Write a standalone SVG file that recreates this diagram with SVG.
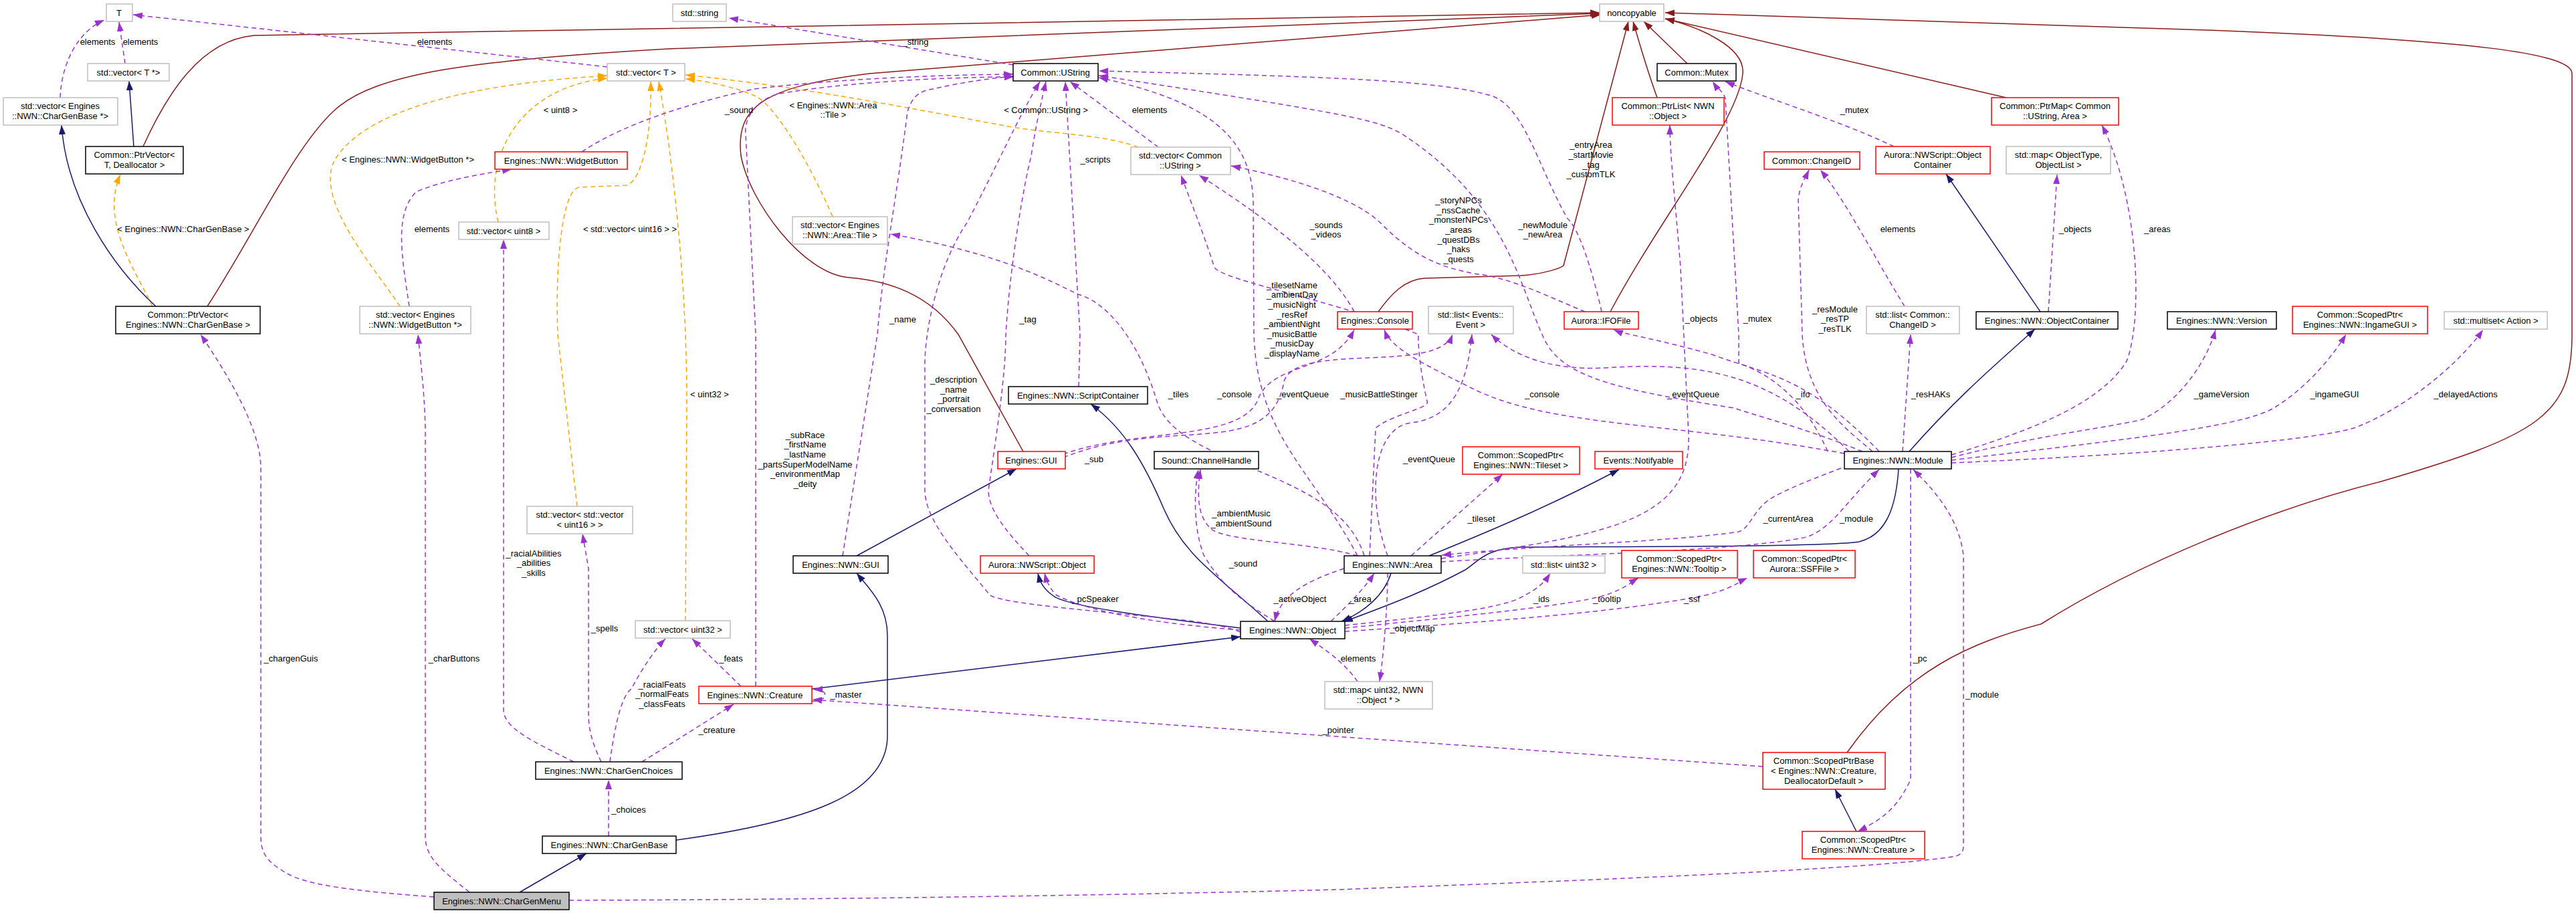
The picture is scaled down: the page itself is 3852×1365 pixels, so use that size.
<svg xmlns="http://www.w3.org/2000/svg" width="3852" height="1365" viewBox="0 0 3852 1365">
<style>
text{font-family:"Liberation Sans",Arial,sans-serif;font-size:13px;fill:#000}
.nt{text-anchor:middle}
.b{fill:#fff;stroke:#000;stroke-width:1.5}
.r{fill:#fff;stroke:#ff0000;stroke-width:1.5}
.g{fill:#fff;stroke:#bfbfbf;stroke-width:1.5}
.s{fill:#bfbfbf;stroke:#000;stroke-width:1.5}
.inh{fill:none;stroke:#191970;stroke-width:1.5;marker-end:url(#ab)}
.nc{fill:none;stroke:#8b1a1a;stroke-width:1.5;marker-end:url(#ar)}
.use{fill:none;stroke:#9a32cd;stroke-width:1.5;stroke-dasharray:7,5;marker-end:url(#ap)}
.tpl{fill:none;stroke:#ffa500;stroke-width:1.5;stroke-dasharray:7,5;marker-end:url(#ao)}
.el{text-anchor:middle}
</style>
<defs>
<marker id="ab" markerUnits="userSpaceOnUse" markerWidth="14" markerHeight="10" refX="14" refY="5" orient="auto"><path d="M0,0L14,5L0,10z" fill="#191970"/></marker>
<marker id="ar" markerUnits="userSpaceOnUse" markerWidth="14" markerHeight="10" refX="14" refY="5" orient="auto"><path d="M0,0L14,5L0,10z" fill="#8b1a1a"/></marker>
<marker id="ap" markerUnits="userSpaceOnUse" markerWidth="14" markerHeight="10" refX="14" refY="5" orient="auto"><path d="M0,0L14,5L0,10z" fill="#9a32cd"/></marker>
<marker id="ao" markerUnits="userSpaceOnUse" markerWidth="14" markerHeight="10" refX="14" refY="5" orient="auto"><path d="M0,0L14,5L0,10z" fill="#ffa500"/></marker>
</defs>
<rect width="3852" height="1365" fill="#fff"/>
<g id="connectors">
<path class="nc" d="M214,219 C250,140 300,60 380,53 L2392,19"/>
<path class="nc" d="M310,458 C380,350 440,220 500,165 C560,110 700,90 1000,73 L2392,20"/>
<path class="nc" d="M1530,675 L1433,500 C1390,440 1330,420 1270,415 C1200,410 1120,300 1108,233 C1100,160 1140,130 1300,110 L2394,22"/>
<path class="nc" d="M2061,466 C2080,440 2100,418 2130,416 L2274,412 C2310,410 2335,400 2338,397 L2435,32"/>
<path class="nc" d="M2478,146 C2465,110 2450,60 2442,32"/>
<path class="nc" d="M2523,95 L2458,32"/>
<path class="nc" d="M2408,466 C2480,330 2600,180 2606,110 C2610,70 2540,40 2490,28"/>
<path class="nc" d="M3000,146 L2490,28"/>
<path class="nc" d="M2762,1125 C2850,1000 2950,960 3052,933 C3200,840 3400,760 3560,720 C3800,650 3846,620 3846,500 L3846,110 C3846,80 3700,60 3300,45 L2490,19"/>
<path class="inh" d="M233,458 C170,400 100,300 92,187"/>
<path class="inh" d="M200,219 L193,121"/>
<path class="inh" d="M3051,466 L2910,260"/>
<path class="inh" d="M777,1334 L877,1276"/>
<path class="inh" d="M1011,1256 C1200,1230 1327,1190 1327,1100 L1327,950 C1327,905 1300,880 1281,857"/>
<path class="inh" d="M1281,831 L1520,701"/>
<path class="inh" d="M1896,929 C1820,860 1770,830 1740,760 C1710,690 1680,640 1631,604"/>
<path class="inh" d="M1855,939 C1700,920 1590,905 1574,890 C1560,880 1555,870 1552,857"/>
<path class="inh" d="M1214,1030 L1855,952"/>
<path class="inh" d="M2137,831 C2250,785 2330,750 2421,702"/>
<path class="inh" d="M2080,857 C2070,890 2040,915 2006,929"/>
<path class="inh" d="M2839,701 C2835,760 2820,800 2780,810 C2730,818 2400,817 2274,818 C2220,820 2210,840 2191,852 C2120,890 2060,910 2009,930"/>
<path class="inh" d="M2855,675 C2930,590 2990,540 3043,492"/>
<path class="inh" d="M2776,1243 L2744,1180"/>
<path class="tpl" d="M228,458 C200,400 150,330 180,261"/>
<path class="tpl" d="M598,458 C560,400 470,300 500,240 C560,140 800,120 908,113"/>
<path class="tpl" d="M745,332 C720,230 780,130 908,117"/>
<path class="tpl" d="M863,757 L834,500 C830,400 840,280 867,280 L937,277 C960,270 975,200 973,122"/>
<path class="tpl" d="M1025,928 L1027,600 C1027,400 1000,200 985,122"/>
<path class="tpl" d="M1245,324 C1200,220 1150,150 1128,143 C1100,130 1050,120 1025,118"/>
<path class="tpl" d="M1702,220 C1650,200 1560,200 1497,187 C1350,160 1200,130 1025,112"/>
<path class="use" d="M90,146 C92,90 120,45 156,30"/>
<path class="use" d="M187,95 L178,33"/>
<path class="use" d="M908,100 L199,22"/>
<path class="use" d="M1515,97 L1090,27"/>
<path class="use" d="M1732,220 L1600,122"/>
<path class="use" d="M612,458 C600,380 590,320 622,287 C660,270 720,260 765,253"/>
<path class="use" d="M870,227 C940,180 1050,150 1128,133 C1250,118 1400,112 1515,111"/>
<path class="use" d="M858,1139 C800,1110 755,1090 753,1063 L753,358"/>
<path class="use" d="M899,1139 C885,1110 880,1090 880,1066 L880,850 L871,798"/>
<path class="use" d="M912,1139 C920,1080 930,1040 944,1030 C960,1000 980,970 995,955"/>
<path class="use" d="M1108,1026 L1035,955"/>
<path class="use" d="M960,1139 L1097,1053"/>
<path class="use" d="M1214,1048 C1238,1050 1242,1030 1216,1031"/>
<path class="use" d="M2636,1146 L1215,1046"/>
<path class="use" d="M910,1250 L910,1166"/>
<path class="use" d="M649,1341 C500,1330 446,1320 420,1300 C395,1285 390,1270 390,1250 L390,700 C390,640 340,560 300,500"/>
<path class="use" d="M702,1334 C660,1300 636,1283 636,1250 L636,650 C636,600 630,550 625,500"/>
<path class="use" d="M851,1346 C1200,1345 1600,1340 2000,1330 C2400,1315 2800,1300 2925,1280 C2936,1276 2936,1270 2936,1262 L2936,830 C2930,780 2900,740 2861,702"/>
<path class="use" d="M1260,831 L1312,500 C1320,400 1340,300 1357,167 C1365,140 1380,135 1395,133 C1430,125 1470,118 1516,114"/>
<path class="use" d="M1130,1026 L1130,500 L1115,200 C1112,170 1140,145 1166,140 C1250,125 1400,115 1516,115"/>
<path class="use" d="M1855,945 C1829,935 1800,930 1750,925 C1600,910 1480,900 1478,887 C1440,840 1383,780 1383,733 L1383,543 C1383,500 1400,400 1446,333 C1490,250 1520,180 1555,122"/>
<path class="use" d="M1539,831 C1500,790 1478,760 1478,733 C1490,650 1504,560 1504,500 C1510,400 1530,280 1542,233 C1550,180 1560,140 1564,122"/>
<path class="use" d="M1613,578 L1615,500 L1593,122"/>
<path class="use" d="M2040,831 C2000,700 1760,700 1730,600 C1700,500 1650,450 1612,440 C1570,420 1500,380 1332,350"/>
<path class="use" d="M1590,679 C1700,640 1850,660 1880,600 C1900,540 1990,560 2025,493"/>
<path class="use" d="M1590,684 C1750,620 1900,690 1920,570 C1940,510 2150,560 2172,500"/>
<path class="use" d="M2075,831 C2045,750 2050,640 2110,632 C2180,625 2195,560 2201,500"/>
<path class="use" d="M2758,678 C2500,630 2320,640 2200,580 C2120,540 2080,520 2070,493"/>
<path class="use" d="M2765,675 C2650,560 2550,540 2400,550 C2300,555 2250,520 2230,500"/>
<path class="use" d="M2810,675 C2700,560 2640,560 2560,530 C2470,505 2430,500 2413,493"/>
<path class="use" d="M2845,675 L2857,500"/>
<path class="use" d="M2800,675 C2760,640 2700,600 2695,500 L2689,300 C2690,280 2700,265 2705,254"/>
<path class="use" d="M2848,458 C2800,380 2760,300 2722,254"/>
<path class="use" d="M2733,675 C2700,600 2650,560 2600,543 L2600,500 L2580,147 C2575,135 2565,128 2561,122"/>
<path class="use" d="M2832,219 C2750,180 2650,150 2580,122"/>
<path class="use" d="M2155,835 C2400,800 2530,780 2525,650 L2513,400 C2505,300 2497,230 2497,187"/>
<path class="use" d="M2753,700 C2700,720 2650,740 2638,753 C2620,770 2615,790 2600,795 C2500,810 2300,815 2156,830"/>
<path class="use" d="M2155,840 C2300,830 2600,825 2701,803 C2740,790 2760,750 2810,702"/>
<path class="use" d="M2110,831 L2247,709"/>
<path class="use" d="M2030,831 C1960,810 1830,810 1810,790 C1790,770 1790,740 1795,702"/>
<path class="use" d="M1906,929 C1860,900 1830,880 1800,830 C1785,790 1785,740 1792,702"/>
<path class="use" d="M2010,850 C1950,870 1915,890 1906,929"/>
<path class="use" d="M1990,929 C2020,900 2040,880 2055,857"/>
<path class="use" d="M2011,935 C2150,920 2250,910 2280,890 C2300,880 2310,870 2318,857"/>
<path class="use" d="M2011,939 C2200,920 2350,905 2400,890 C2430,880 2440,870 2450,864"/>
<path class="use" d="M2011,944 C2300,925 2450,910 2550,890 C2590,880 2600,870 2613,864"/>
<path class="use" d="M2030,1019 C2010,990 1980,970 1958,955"/>
<path class="use" d="M2075,857 C2075,900 2070,970 2063,1019"/>
<path class="use" d="M1855,942 C1700,930 1620,910 1580,890 C1570,880 1565,870 1562,857"/>
<path class="use" d="M2030,831 C1960,700 1880,650 1875,500 L1874,300 C1870,200 1800,150 1643,116"/>
<path class="use" d="M2048,831 L2057,640 C2080,620 2140,610 2134,600 C2125,560 2120,520 2121,500 C2000,450 1830,420 1816,400 C1800,350 1780,300 1766,262"/>
<path class="use" d="M2025,466 C1990,400 1900,330 1793,262"/>
<path class="use" d="M2370,466 C2330,450 2260,415 2210,410 C2150,400 2110,380 2064,333 C2030,300 1950,270 1841,248"/>
<path class="use" d="M2395,466 C2380,400 2360,340 2344,327 C2300,250 2280,160 2230,143 C2150,120 2000,115 1643,106"/>
<path class="use" d="M2785,675 C2700,640 2620,620 2593,610 C2400,580 2330,560 2306,500 C2270,420 2250,300 2096,200 C2060,180 2030,172 1643,113"/>
<path class="use" d="M2918,680 C3050,640 3143,600 3180,540 C3204,480 3200,300 3143,187"/>
<path class="use" d="M3063,466 L3076,261"/>
<path class="use" d="M2918,684 C3050,650 3150,640 3204,627 C3260,600 3300,540 3313,493"/>
<path class="use" d="M2918,688 C3150,660 3350,640 3400,610 C3450,580 3490,530 3508,500"/>
<path class="use" d="M2918,692 C3200,680 3450,660 3520,640 C3600,610 3680,540 3713,493"/>
<path class="use" d="M2857,701 L2857,1166 C2840,1200 2825,1220 2778,1243"/>
</g>
<g id="edge-labels">
<text class="el" x="146" y="67">elements</text>
<text class="el" x="210" y="67">elements</text>
<text class="el" x="650" y="67">elements</text>
<text class="el" x="1369" y="67">_string</text>
<text class="el" x="1719" y="169">elements</text>
<text class="el" x="646" y="347">elements</text>
<text class="el" x="1105" y="169">_sound</text>
<text class="el" x="274" y="347">&lt; Engines::NWN::CharGenBase &gt;</text>
<text class="el" x="610" y="243">&lt; Engines::NWN::WidgetButton *&gt;</text>
<text class="el" x="838" y="169">&lt; uint8 &gt;</text>
<text class="el" x="942" y="347">&lt; std::vector&lt; uint16 &gt; &gt;</text>
<text class="el" x="1061" y="594">&lt; uint32 &gt;</text>
<text class="el" x="1246" y="162">&lt; Engines::NWN::Area</text>
<text class="el" x="1246" y="176">::Tile &gt;</text>
<text class="el" x="1564" y="169">&lt; Common::UString &gt;</text>
<text class="el" x="798" y="832">_racialAbilities</text>
<text class="el" x="798" y="846">_abilities</text>
<text class="el" x="798" y="861">_skills</text>
<text class="el" x="904" y="944">_spells</text>
<text class="el" x="990" y="1028">_racialFeats</text>
<text class="el" x="990" y="1042">_normalFeats</text>
<text class="el" x="990" y="1057">_classFeats</text>
<text class="el" x="1093" y="989">_feats</text>
<text class="el" x="1072" y="1096">_creature</text>
<text class="el" x="1265" y="1043">_master</text>
<text class="el" x="2001" y="1096">_pointer</text>
<text class="el" x="940" y="1215">_choices</text>
<text class="el" x="435" y="989">_chargenGuis</text>
<text class="el" x="679" y="989">_charButtons</text>
<text class="el" x="2964" y="1043">_module</text>
<text class="el" x="1350" y="482">_name</text>
<text class="el" x="1204" y="655">_subRace</text>
<text class="el" x="1204" y="669">_firstName</text>
<text class="el" x="1204" y="684">_lastName</text>
<text class="el" x="1204" y="699">_partsSuperModelName</text>
<text class="el" x="1204" y="713">_environmentMap</text>
<text class="el" x="1204" y="728">_deity</text>
<text class="el" x="1426" y="572">_description</text>
<text class="el" x="1426" y="587">_name</text>
<text class="el" x="1426" y="601">_portrait</text>
<text class="el" x="1426" y="616">_conversation</text>
<text class="el" x="1537" y="482">_tag</text>
<text class="el" x="1638" y="243">_scripts</text>
<text class="el" x="1762" y="594">_tiles</text>
<text class="el" x="1846" y="594">_console</text>
<text class="el" x="1948" y="594">_eventQueue</text>
<text class="el" x="1636" y="691">_sub</text>
<text class="el" x="2137" y="691">_eventQueue</text>
<text class="el" x="2532" y="594">_eventQueue</text>
<text class="el" x="2306" y="594">_console</text>
<text class="el" x="2062" y="594">_musicBattleStinger</text>
<text class="el" x="2696" y="594">_ifo</text>
<text class="el" x="2887" y="594">_resHAKs</text>
<text class="el" x="2744" y="467">_resModule</text>
<text class="el" x="2744" y="481">_resTP</text>
<text class="el" x="2744" y="496">_resTLK</text>
<text class="el" x="2838" y="347">elements</text>
<text class="el" x="2628" y="481">_mutex</text>
<text class="el" x="2773" y="169">_mutex</text>
<text class="el" x="2544" y="481">_objects</text>
<text class="el" x="2674" y="780">_currentArea</text>
<text class="el" x="2776" y="780">_module</text>
<text class="el" x="2215" y="780">_tileset</text>
<text class="el" x="1856" y="772">_ambientMusic</text>
<text class="el" x="1856" y="787">_ambientSound</text>
<text class="el" x="1859" y="847">_sound</text>
<text class="el" x="1944" y="900">_activeObject</text>
<text class="el" x="2034" y="900">_area</text>
<text class="el" x="2305" y="900">_ids</text>
<text class="el" x="2403" y="900">_tooltip</text>
<text class="el" x="2530" y="900">_ssf</text>
<text class="el" x="2031" y="989">elements</text>
<text class="el" x="2112" y="944">_objectMap</text>
<text class="el" x="1638" y="900">_pcSpeaker</text>
<text class="el" x="1932" y="431">_tilesetName</text>
<text class="el" x="1932" y="445">_ambientDay</text>
<text class="el" x="1932" y="460">_musicNight</text>
<text class="el" x="1932" y="475">_resRef</text>
<text class="el" x="1932" y="489">_ambientNight</text>
<text class="el" x="1932" y="504">_musicBattle</text>
<text class="el" x="1932" y="518">_musicDay</text>
<text class="el" x="1932" y="533">_displayName</text>
<text class="el" x="1983" y="341">_sounds</text>
<text class="el" x="1983" y="355">_videos</text>
<text class="el" x="2181" y="304">_storyNPCs</text>
<text class="el" x="2181" y="319">_nssCache</text>
<text class="el" x="2181" y="333">_monsterNPCs</text>
<text class="el" x="2181" y="348">_areas</text>
<text class="el" x="2181" y="363">_questDBs</text>
<text class="el" x="2181" y="377">_haks</text>
<text class="el" x="2181" y="392">_quests</text>
<text class="el" x="2379" y="221">_entryArea</text>
<text class="el" x="2379" y="236">_startMovie</text>
<text class="el" x="2379" y="251">_tag</text>
<text class="el" x="2379" y="265">_customTLK</text>
<text class="el" x="2307" y="341">_newModule</text>
<text class="el" x="2307" y="355">_newArea</text>
<text class="el" x="3226" y="347">_areas</text>
<text class="el" x="3103" y="347">_objects</text>
<text class="el" x="3322" y="594">_gameVersion</text>
<text class="el" x="3491" y="594">_ingameGUI</text>
<text class="el" x="3687" y="594">_delayedActions</text>
<text class="el" x="2871" y="989">_pc</text>
</g>
<g id="n1"><rect class="g" x="159" y="6" width="39" height="26"/><text class="nt" x="178" y="24">T</text></g>
<g id="n2"><rect class="g" x="131" y="95" width="122" height="26"/><text class="nt" x="192" y="113">std::vector&lt; T *&gt;</text></g>
<g id="n3"><rect class="g" x="5" y="146" width="171" height="41"/><text class="nt" x="90" y="163">std::vector&lt; Engines</text><text class="nt" x="90" y="178">::NWN::CharGenBase *&gt;</text></g>
<g id="n4"><rect class="b" x="128" y="219" width="146" height="41"/><text class="nt" x="201" y="236">Common::PtrVector&lt;</text><text class="nt" x="201" y="251">T, Deallocator &gt;</text></g>
<g id="n5"><rect class="b" x="173" y="458" width="216" height="41"/><text class="nt" x="281" y="475">Common::PtrVector&lt;</text><text class="nt" x="281" y="490">Engines::NWN::CharGenBase &gt;</text></g>
<g id="n6"><rect class="g" x="908" y="95" width="116" height="26"/><text class="nt" x="966" y="113">std::vector&lt; T &gt;</text></g>
<g id="n7"><rect class="r" x="740" y="227" width="198" height="26"/><text class="nt" x="839" y="245">Engines::NWN::WidgetButton</text></g>
<g id="n8"><rect class="g" x="686" y="332" width="135" height="26"/><text class="nt" x="753" y="350">std::vector&lt; uint8 &gt;</text></g>
<g id="n9"><rect class="g" x="538" y="458" width="166" height="41"/><text class="nt" x="621" y="475">std::vector&lt; Engines</text><text class="nt" x="621" y="490">::NWN::WidgetButton *&gt;</text></g>
<g id="n10"><rect class="g" x="2392" y="6" width="96" height="26"/><text class="nt" x="2440" y="24">noncopyable</text></g>
<g id="n11"><rect class="g" x="1006" y="6" width="80" height="26"/><text class="nt" x="1046" y="24">std::string</text></g>
<g id="n12"><rect class="b" x="1515" y="95" width="127" height="26"/><text class="nt" x="1578" y="113">Common::UString</text></g>
<g id="n13"><rect class="g" x="1691" y="220" width="149" height="41"/><text class="nt" x="1765" y="237">std::vector&lt; Common</text><text class="nt" x="1765" y="252">::UString &gt;</text></g>
<g id="n14"><rect class="g" x="1185" y="324" width="142" height="41"/><text class="nt" x="1256" y="341">std::vector&lt; Engines</text><text class="nt" x="1256" y="356">::NWN::Area::Tile &gt;</text></g>
<g id="n15"><rect class="b" x="2478" y="95" width="118" height="26"/><text class="nt" x="2537" y="113">Common::Mutex</text></g>
<g id="n16"><rect class="r" x="2411" y="146" width="167" height="41"/><text class="nt" x="2494" y="163">Common::PtrList&lt; NWN</text><text class="nt" x="2494" y="178">::Object &gt;</text></g>
<g id="n17"><rect class="r" x="2638" y="227" width="143" height="26"/><text class="nt" x="2709" y="245">Common::ChangeID</text></g>
<g id="n18"><rect class="r" x="2805" y="219" width="171" height="41"/><text class="nt" x="2890" y="236">Aurora::NWScript::Object</text><text class="nt" x="2890" y="251">Container</text></g>
<g id="n19"><rect class="r" x="2978" y="146" width="190" height="41"/><text class="nt" x="3073" y="163">Common::PtrMap&lt; Common</text><text class="nt" x="3073" y="178">::UString, Area &gt;</text></g>
<g id="n20"><rect class="g" x="3000" y="219" width="156" height="41"/><text class="nt" x="3078" y="236">std::map&lt; ObjectType,</text><text class="nt" x="3078" y="251">ObjectList &gt;</text></g>
<g id="n21"><rect class="r" x="2000" y="466" width="112" height="26"/><text class="nt" x="2056" y="484">Engines::Console</text></g>
<g id="n22"><rect class="g" x="2136" y="458" width="127" height="41"/><text class="nt" x="2199" y="475">std::list&lt; Events::</text><text class="nt" x="2199" y="490">Event &gt;</text></g>
<g id="n23"><rect class="r" x="2339" y="466" width="111" height="26"/><text class="nt" x="2394" y="484">Aurora::IFOFile</text></g>
<g id="n24"><rect class="g" x="2791" y="458" width="139" height="41"/><text class="nt" x="2860" y="475">std::list&lt; Common::</text><text class="nt" x="2860" y="490">ChangeID &gt;</text></g>
<g id="n25"><rect class="b" x="2955" y="466" width="212" height="26"/><text class="nt" x="3061" y="484">Engines::NWN::ObjectContainer</text></g>
<g id="n26"><rect class="b" x="3241" y="466" width="163" height="26"/><text class="nt" x="3322" y="484">Engines::NWN::Version</text></g>
<g id="n27"><rect class="r" x="3428" y="458" width="202" height="41"/><text class="nt" x="3529" y="475">Common::ScopedPtr&lt;</text><text class="nt" x="3529" y="490">Engines::NWN::IngameGUI &gt;</text></g>
<g id="n28"><rect class="g" x="3655" y="466" width="154" height="26"/><text class="nt" x="3732" y="484">std::multiset&lt; Action &gt;</text></g>
<g id="n29"><rect class="g" x="788" y="757" width="158" height="41"/><text class="nt" x="867" y="774">std::vector&lt; std::vector</text><text class="nt" x="867" y="789">&lt; uint16 &gt; &gt;</text></g>
<g id="n30"><rect class="b" x="1508" y="578" width="208" height="26"/><text class="nt" x="1612" y="596">Engines::NWN::ScriptContainer</text></g>
<g id="n31"><rect class="r" x="1492" y="675" width="101" height="26"/><text class="nt" x="1542" y="693">Engines::GUI</text></g>
<g id="n32"><rect class="b" x="1726" y="675" width="156" height="26"/><text class="nt" x="1804" y="693">Sound::ChannelHandle</text></g>
<g id="n33"><rect class="b" x="1186" y="831" width="142" height="26"/><text class="nt" x="1257" y="849">Engines::NWN::GUI</text></g>
<g id="n34"><rect class="r" x="1466" y="831" width="170" height="26"/><text class="nt" x="1551" y="849">Aurora::NWScript::Object</text></g>
<g id="n35"><rect class="r" x="2187" y="668" width="175" height="41"/><text class="nt" x="2274" y="685">Common::ScopedPtr&lt;</text><text class="nt" x="2274" y="700">Engines::NWN::Tileset &gt;</text></g>
<g id="n36"><rect class="r" x="2385" y="675" width="131" height="26"/><text class="nt" x="2450" y="693">Events::Notifyable</text></g>
<g id="n37"><rect class="b" x="2758" y="675" width="160" height="26"/><text class="nt" x="2838" y="693">Engines::NWN::Module</text></g>
<g id="n38"><rect class="b" x="2010" y="831" width="145" height="26"/><text class="nt" x="2082" y="849">Engines::NWN::Area</text></g>
<g id="n39"><rect class="g" x="2277" y="831" width="123" height="26"/><text class="nt" x="2338" y="849">std::list&lt; uint32 &gt;</text></g>
<g id="n40"><rect class="r" x="2425" y="823" width="173" height="41"/><text class="nt" x="2511" y="840">Common::ScopedPtr&lt;</text><text class="nt" x="2511" y="855">Engines::NWN::Tooltip &gt;</text></g>
<g id="n41"><rect class="r" x="2622" y="823" width="152" height="41"/><text class="nt" x="2698" y="840">Common::ScopedPtr&lt;</text><text class="nt" x="2698" y="855">Aurora::SSFFile &gt;</text></g>
<g id="n42"><rect class="g" x="950" y="928" width="142" height="26"/><text class="nt" x="1021" y="946">std::vector&lt; uint32 &gt;</text></g>
<g id="n43"><rect class="b" x="1855" y="929" width="156" height="26"/><text class="nt" x="1933" y="947">Engines::NWN::Object</text></g>
<g id="n44"><rect class="r" x="1045" y="1026" width="169" height="26"/><text class="nt" x="1129" y="1044">Engines::NWN::Creature</text></g>
<g id="n45"><rect class="g" x="1981" y="1019" width="161" height="41"/><text class="nt" x="2061" y="1036">std::map&lt; uint32, NWN</text><text class="nt" x="2061" y="1051">::Object * &gt;</text></g>
<g id="n46"><rect class="b" x="801" y="1139" width="219" height="26"/><text class="nt" x="910" y="1157">Engines::NWN::CharGenChoices</text></g>
<g id="n47"><rect class="b" x="811" y="1250" width="200" height="26"/><text class="nt" x="911" y="1268">Engines::NWN::CharGenBase</text></g>
<g id="n48"><rect class="s" x="649" y="1334" width="202" height="26"/><text class="nt" x="750" y="1352">Engines::NWN::CharGenMenu</text></g>
<g id="n49"><rect class="r" x="2636" y="1125" width="183" height="55"/><text class="nt" x="2727" y="1142">Common::ScopedPtrBase</text><text class="nt" x="2727" y="1157">&lt; Engines::NWN::Creature,</text><text class="nt" x="2727" y="1172">DeallocatorDefault &gt;</text></g>
<g id="n50"><rect class="r" x="2695" y="1243" width="183" height="41"/><text class="nt" x="2786" y="1260">Common::ScopedPtr&lt;</text><text class="nt" x="2786" y="1275">Engines::NWN::Creature &gt;</text></g>
</svg>
